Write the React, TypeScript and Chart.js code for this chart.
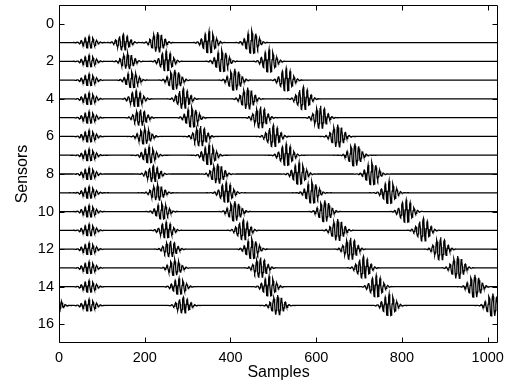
import React, { useEffect, useRef } from 'react';
import { Chart, registerables } from 'chart.js';

Chart.register(...registerables);

// ---- data ----
const sensors = [1, 2, 3, 4, 5, 6, 7, 8, 9, 10, 11, 12, 13, 14, 15];
const sampleCount = 1024;
// arrival sample (packet centre) of each wave packet, per sensor
const arrivalsA = [70, 70, 70, 70, 70, 70, 70, 70, 70, 70, 70, 70, 70, 70, 70];
const arrivalsB = [150, 160, 170, 180, 190, 200, 210, 220, 230, 240, 250, 260, 270, 280, 290];
const arrivalsC = [230, 250, 270, 290, 310, 330, 350, 370, 390, 410, 430, 450, 470, 490, 510];
const arrivalsD = [350, 380, 410, 440, 470, 500, 530, 560, 590, 620, 650, 680, 710, 740, 770];
const arrivalsE = [450, 490, 530, 570, 610, 650, 690, 730, 770, 810, 850, 890, 930, 970, 1012];
// peak amplitude of packets A..E (in sensor-spacing units)
const packetAmplitudes = [0.32, 0.44, 0.55, 0.6, 0.63];
// wavelet: carrier period and envelope width, in samples
const wavePeriod = 9;
const waveWidth = 12;

const xTicks = [0, 200, 400, 600, 800, 1000];
const yTicks = [0, 2, 4, 6, 8, 10, 12, 14, 16];

const FONT = '"Liberation Sans", Arial, Helvetica, sans-serif';

function buildTrace(k: number) {
  const centers = [arrivalsA[k], arrivalsB[k], arrivalsC[k], arrivalsD[k], arrivalsE[k]];
  const pts: { x: number; y: number }[] = [];
  for (let s = 1; s <= sampleCount; s++) {
    let v = 0;
    centers.forEach((c, j) => {
      let d = s - c;
      d = (((d + sampleCount / 2) % sampleCount) + sampleCount) % sampleCount - sampleCount / 2;
      if (Math.abs(d) < 5 * waveWidth) {
        v +=
          packetAmplitudes[j] *
          Math.exp((-d * d) / (2 * waveWidth * waveWidth)) *
          Math.cos((2 * Math.PI * d) / wavePeriod);
      }
    });
    pts.push({ x: s, y: sensors[k] - v });
  }
  return pts;
}

const framePlugin = {
  id: 'matlabFrame',
  afterDraw(chart: any) {
    const { ctx, chartArea: a, scales } = chart;
    const L = Math.round(a.left) + 0.5;
    const R = Math.round(a.right) - 0.5;
    const T = Math.round(a.top) + 0.5;
    const B = Math.round(a.bottom) - 0.5;
    const len = 5;
    ctx.save();
    ctx.strokeStyle = '#000';
    ctx.lineWidth = 1;
    ctx.beginPath();
    ctx.rect(L, T, R - L, B - T);
    xTicks.forEach((v) => {
      const p = Math.round(scales.x.getPixelForValue(v)) + 0.5;
      ctx.moveTo(p, B);
      ctx.lineTo(p, B - len);
      ctx.moveTo(p, T);
      ctx.lineTo(p, T + len);
    });
    yTicks.forEach((v) => {
      const p = Math.round(scales.y.getPixelForValue(v)) + 0.5;
      ctx.moveTo(L, p);
      ctx.lineTo(L + len, p);
      ctx.moveTo(R, p);
      ctx.lineTo(R - len, p);
    });
    ctx.stroke();
    ctx.restore();
  },
};

export default function App() {
  const ref = useRef<HTMLCanvasElement | null>(null);

  useEffect(() => {
    if (!ref.current) return;
    const datasets = sensors.map((s, k) => ({
      label: 'Sensor ' + s,
      data: buildTrace(k),
      borderColor: '#000',
      borderWidth: 1.3,
      pointRadius: 0,
      tension: 0,
      fill: false,
    }));
    const tickFont = { family: FONT, size: 14.5 };
    const titleFont = { family: FONT, size: 16 };
    const chart = new Chart(ref.current, {
      type: 'line',
      data: { datasets },
      options: {
        animation: false,
        responsive: false,
        devicePixelRatio: 1,
        parsing: false,
        normalized: true,
        events: [],
        layout: { padding: { top: 5, right: 9, left: 0, bottom: 0 } },
        plugins: { legend: { display: false }, tooltip: { enabled: false } },
        scales: {
          x: {
            type: 'linear',
            min: 0,
            max: sampleCount,
            afterBuildTicks: (s: any) => {
              s.ticks = xTicks.map((v) => ({ value: v }));
            },
            afterFit: (s: any) => {
              s.height = 45;
              s.paddingLeft = 0;
              s.paddingRight = 0;
            },
            grid: { display: false, drawTicks: false },
            border: { display: false },
            ticks: {
              padding: 6,
              font: tickFont,
              color: '#000',
              maxRotation: 0,
              autoSkip: false,
              callback: (v: any) => String(v),
            },
            title: {
              display: true,
              text: 'Samples',
              font: titleFont,
              color: '#000',
              padding: { top: 0, bottom: 6 },
            },
          },
          y: {
            type: 'linear',
            reverse: true,
            min: -1,
            max: 17,
            afterBuildTicks: (s: any) => {
              s.ticks = yTicks.map((v) => ({ value: v }));
            },
            afterFit: (s: any) => {
              s.width = 59;
              s.paddingTop = 0;
              s.paddingBottom = 0;
            },
            grid: { display: false, drawTicks: false },
            border: { display: false },
            ticks: {
              padding: 5,
              font: tickFont,
              color: '#000',
              autoSkip: false,
              callback: (v: any) => String(v),
            },
            title: {
              display: true,
              text: 'Sensors',
              font: titleFont,
              color: '#000',
              padding: { top: 13, bottom: 0 },
            },
          },
        },
      } as any,
      plugins: [framePlugin],
    });
    return () => chart.destroy();
  }, []);

  return (
    <div style={{ position: 'absolute', left: 0, top: 0, width: 507, height: 388, background: '#fff' }}>
      <canvas ref={ref} width={507} height={388} style={{ display: 'block', width: 507, height: 388 }} />
    </div>
  );
}
